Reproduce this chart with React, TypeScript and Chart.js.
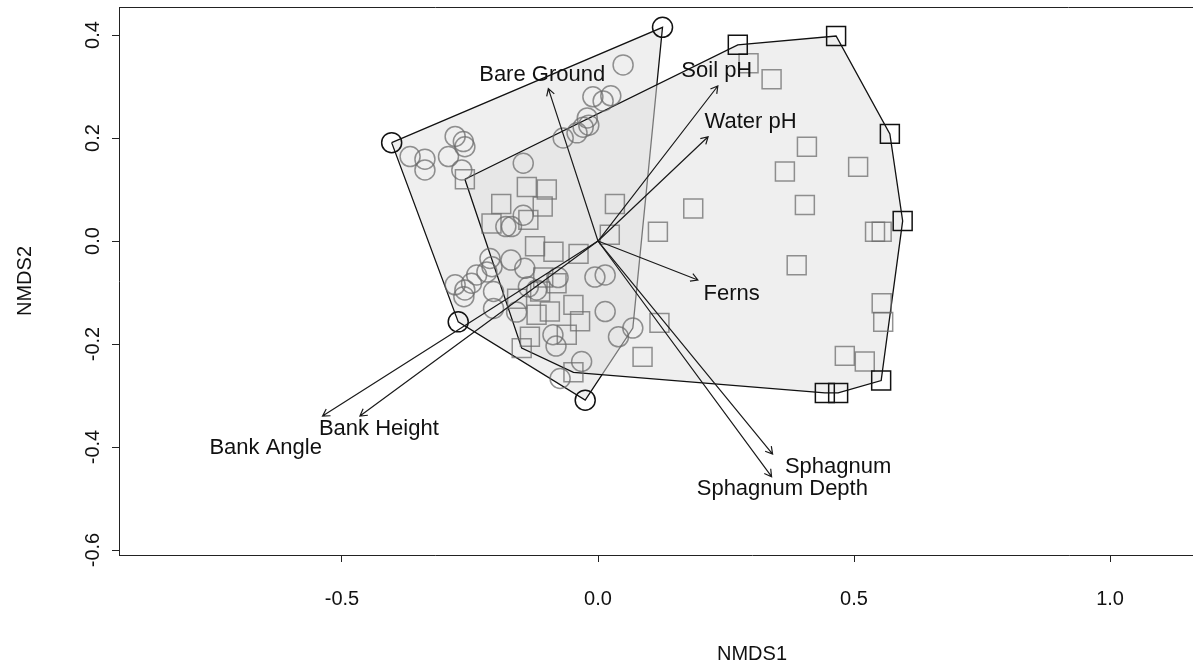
import React, { useEffect, useRef } from "react";
import { Chart, registerables } from "chart.js";

Chart.register(...registerables);

// ---- Data ----
const circleNMDS1 = [
  0.126, 0.049, -0.01, 0.025, 0.01, -0.021, -0.018, -0.029, -0.041, -0.068,
  -0.403, -0.367, -0.338, -0.338, -0.292, -0.279, -0.263, -0.26, -0.266,
  -0.146, -0.146, -0.18, -0.169, -0.211, -0.17, -0.143, -0.207, -0.237, -0.217,
  -0.247, -0.279, -0.26, -0.262, -0.204, -0.204, -0.159, -0.136, -0.12, -0.078,
  -0.006, 0.014, 0.014, -0.088, -0.082, -0.032, -0.074, 0.04, 0.068, -0.273, -0.025,
];
const circleNMDS2 = [
  0.415, 0.342, 0.28, 0.282, 0.272, 0.239, 0.225, 0.221, 0.21, 0.2,
  0.191, 0.164, 0.159, 0.138, 0.164, 0.203, 0.193, 0.183, 0.138,
  0.151, 0.05, 0.028, 0.028, -0.034, -0.037, -0.053, -0.05, -0.066, -0.06,
  -0.082, -0.085, -0.095, -0.108, -0.098, -0.131, -0.138, -0.089, -0.095, -0.071,
  -0.07, -0.066, -0.137, -0.182, -0.204, -0.234, -0.267, -0.186, -0.169, -0.157, -0.309,
];
const squareNMDS1 = [
  0.273, 0.465, 0.57, 0.595, 0.553, 0.469, 0.443, -0.048, -0.149, -0.26,
  0.294, 0.339, 0.408, 0.365, 0.508, 0.186, 0.404, 0.117, 0.541, 0.554,
  0.388, 0.554, 0.557, 0.12, 0.087, 0.482, 0.521, 0.033, -0.139, -0.1,
  -0.189, -0.108, -0.208, -0.136, -0.123, -0.087, -0.038, 0.023, -0.107, -0.081,
  -0.113, -0.158, -0.048, -0.094, -0.12, -0.035, -0.133, -0.061,
];
const squareNMDS2 = [
  0.381, 0.398, 0.208, 0.039, -0.271, -0.295, -0.295, -0.255, -0.208, 0.12,
  0.345, 0.314, 0.183, 0.135, 0.144, 0.063, 0.07, 0.018, 0.018, 0.018,
  -0.047, -0.121, -0.157, -0.159, -0.225, -0.223, -0.234, 0.072, 0.105, 0.1,
  0.072, 0.067, 0.034, 0.041, -0.01, -0.021, -0.025, 0.012, -0.071, -0.082,
  -0.098, -0.112, -0.124, -0.137, -0.143, -0.156, -0.186, -0.182,
];

const vectorNames = [
  "Bare Ground", "Soil pH", "Water pH", "Ferns",
  "Sphagnum", "Sphagnum Depth", "Bank Height", "Bank Angle",
];
const vectorNMDS1 = [-0.097, 0.234, 0.215, 0.195, 0.341, 0.339, -0.465, -0.538];
const vectorNMDS2 = [0.296, 0.301, 0.2025, -0.0757, -0.4136, -0.4577, -0.34, -0.34];
const labelNMDS1 = [-0.109, 0.232, 0.298, 0.261, 0.469, 0.36, -0.428, -0.649];
const labelNMDS2 = [0.323, 0.331, 0.232, -0.103, -0.439, -0.482, -0.365, -0.402];

const xTicks = [-0.5, 0.0, 0.5, 1.0];
const yTicks = [-0.6, -0.4, -0.2, 0.0, 0.2, 0.4];
const xRange = [-0.9355, 1.537];
const yRange = [-0.6097, 0.4544];

type P = { x: number; y: number };

function convexHull(pts: P[]): P[] {
  const p = pts.slice().sort((a, b) => a.x - b.x || a.y - b.y);
  const cross = (o: P, a: P, b: P) => (a.x - o.x) * (b.y - o.y) - (a.y - o.y) * (b.x - o.x);
  const lower: P[] = [];
  for (const q of p) {
    while (lower.length >= 2 && cross(lower[lower.length - 2], lower[lower.length - 1], q) <= 0) lower.pop();
    lower.push(q);
  }
  const upper: P[] = [];
  for (let i = p.length - 1; i >= 0; i--) {
    const q = p[i];
    while (upper.length >= 2 && cross(upper[upper.length - 2], upper[upper.length - 1], q) <= 0) upper.pop();
    upper.push(q);
  }
  lower.pop();
  upper.pop();
  return lower.concat(upper);
}

function insidePoly(pt: P, poly: P[]): boolean {
  let inside = false;
  for (let i = 0, j = poly.length - 1; i < poly.length; j = i++) {
    const a = poly[i], b = poly[j];
    if ((a.y > pt.y) !== (b.y > pt.y) && pt.x < ((b.x - a.x) * (pt.y - a.y)) / (b.y - a.y) + a.x) inside = !inside;
  }
  return inside;
}

const FONT = "'Liberation Sans', Arial, Helvetica, sans-serif";

const overlayPlugin = {
  id: "overlay",
  afterDatasetsDraw(chart: any) {
    const { ctx, chartArea } = chart;
    const xs = chart.scales.x;
    const ys = chart.scales.y;
    ctx.save();
    // remaining sides of the box
    ctx.strokeStyle = "#222";
    ctx.lineWidth = 1;
    ctx.beginPath();
    ctx.moveTo(chartArea.left, chartArea.top + 0.5);
    ctx.lineTo(chartArea.right, chartArea.top + 0.5);
    ctx.lineTo(chartArea.right, chartArea.bottom);
    ctx.stroke();
    // fitted vectors
    const x0 = xs.getPixelForValue(0);
    const y0 = ys.getPixelForValue(0);
    ctx.strokeStyle = "#1a1a1a";
    ctx.lineWidth = 1.2;
    ctx.fillStyle = "#111";
    ctx.font = `22px ${FONT}`;
    ctx.textAlign = "center";
    ctx.textBaseline = "middle";
    vectorNames.forEach((name, i) => {
      const x1 = xs.getPixelForValue(vectorNMDS1[i]);
      const y1 = ys.getPixelForValue(vectorNMDS2[i]);
      const ang = Math.atan2(y1 - y0, x1 - x0);
      const L = 8;
      const a = Math.PI / 6;
      ctx.beginPath();
      ctx.moveTo(x0, y0);
      ctx.lineTo(x1, y1);
      ctx.moveTo(x1 - L * Math.cos(ang - a), y1 - L * Math.sin(ang - a));
      ctx.lineTo(x1, y1);
      ctx.lineTo(x1 - L * Math.cos(ang + a), y1 - L * Math.sin(ang + a));
      ctx.stroke();
      ctx.fillText(name, xs.getPixelForValue(labelNMDS1[i]), ys.getPixelForValue(labelNMDS2[i]));
    });
    ctx.restore();
  },
};

export default function App() {
  const ref = useRef<HTMLCanvasElement | null>(null);

  useEffect(() => {
    document.body.style.margin = "0";
    const canvas = ref.current;
    if (!canvas) return;

    const circles: P[] = circleNMDS1.map((x, i) => ({ x, y: circleNMDS2[i] }));
    const squares: P[] = squareNMDS1.map((x, i) => ({ x, y: squareNMDS2[i] }));
    const cHull = convexHull(circles);
    const sHull = convexHull(squares);
    const circleDark = circles.filter((p) => cHull.includes(p) && !insidePoly(p, sHull));
    const circleGray = circles.filter((p) => !circleDark.includes(p));
    const squareDark = squares.filter((p) => sHull.includes(p) && !insidePoly(p, cHull));
    const squareGray = squares.filter((p) => !squareDark.includes(p));

    const hullStyle = {
      showLine: true,
      fill: "shape",
      backgroundColor: "rgba(224,224,224,0.5)",
      borderColor: "#111",
      borderWidth: 1.3,
      pointRadius: 0,
      tension: 0,
    };
    const gray = "rgba(105,105,105,0.72)";
    const dark = "#111";

    const chart = new Chart(canvas, {
      type: "scatter",
      data: {
        datasets: [
          { ...hullStyle, label: "circle hull", data: [...cHull, cHull[0]], order: 4 } as any,
          { ...hullStyle, label: "square hull", data: [...sHull, sHull[0]], order: 3 } as any,
          {
            label: "circles", data: circleGray, pointStyle: "circle", pointRadius: 10,
            pointBorderColor: gray, pointBackgroundColor: "rgba(0,0,0,0)", pointBorderWidth: 1.5, order: 2,
          },
          {
            label: "squares", data: squareGray, pointStyle: "rect", pointRadius: 13.4,
            pointBorderColor: gray, pointBackgroundColor: "rgba(0,0,0,0)", pointBorderWidth: 1.5, order: 2,
          },
          {
            label: "circle hull points", data: circleDark, pointStyle: "circle", pointRadius: 10,
            pointBorderColor: dark, pointBackgroundColor: "rgba(0,0,0,0)", pointBorderWidth: 1.5, order: 1,
          },
          {
            label: "square hull points", data: squareDark, pointStyle: "rect", pointRadius: 13.4,
            pointBorderColor: dark, pointBackgroundColor: "rgba(0,0,0,0)", pointBorderWidth: 1.5, order: 1,
          },
        ],
      },
      options: {
        responsive: false,
        animation: false,
        events: [],
        layout: { autoPadding: false, padding: { top: 7, right: 15, left: 0, bottom: 0 } },
        plugins: { legend: { display: false }, tooltip: { enabled: false } },
        scales: {
          x: {
            type: "linear",
            min: xRange[0],
            max: xRange[1],
            afterBuildTicks: (s: any) => { s.ticks = xTicks.map((v) => ({ value: v })); },
            afterFit: (s: any) => {
              s.height = 111;
              s.paddingLeft = 0; s.paddingRight = 0; s.paddingTop = 0; s.paddingBottom = 0;
            },
            grid: { display: true, drawOnChartArea: false, drawTicks: true, tickLength: 7, color: "#222" },
            border: { display: true, color: "#222", width: 1 },
            ticks: {
              padding: 25, color: "#111", font: { family: FONT, size: 20 },
              callback: (v: any) => Number(v).toFixed(1),
            },
            title: {
              display: true, text: "NMDS1", color: "#111", font: { family: FONT, size: 20 },
              padding: { top: 0, bottom: 0 },
            },
          },
          y: {
            type: "linear",
            min: yRange[0],
            max: yRange[1],
            afterBuildTicks: (s: any) => { s.ticks = yTicks.map((v) => ({ value: v })); },
            afterFit: (s: any) => {
              s.width = 119;
              s.paddingLeft = 0; s.paddingRight = 0; s.paddingTop = 0; s.paddingBottom = 0;
            },
            grid: { display: true, drawOnChartArea: false, drawTicks: true, tickLength: 7, color: "#222" },
            border: { display: true, color: "#222", width: 1 },
            ticks: {
              minRotation: 90, maxRotation: 90, crossAlign: "center", padding: 1,
              color: "#111", font: { family: FONT, size: 20 },
              callback: (v: any) => Number(v).toFixed(1),
            },
            title: {
              display: true, text: "NMDS2", color: "#111", font: { family: FONT, size: 20 },
              padding: { top: 13, bottom: 0 },
            },
          },
        },
      },
      plugins: [overlayPlugin],
    } as any);

    return () => chart.destroy();
  }, []);

  return (
    <div style={{ width: 1193, height: 666, overflow: "hidden", background: "#fff" }}>
      <canvas ref={ref} width={1400} height={666} style={{ display: "block" }} />
    </div>
  );
}
